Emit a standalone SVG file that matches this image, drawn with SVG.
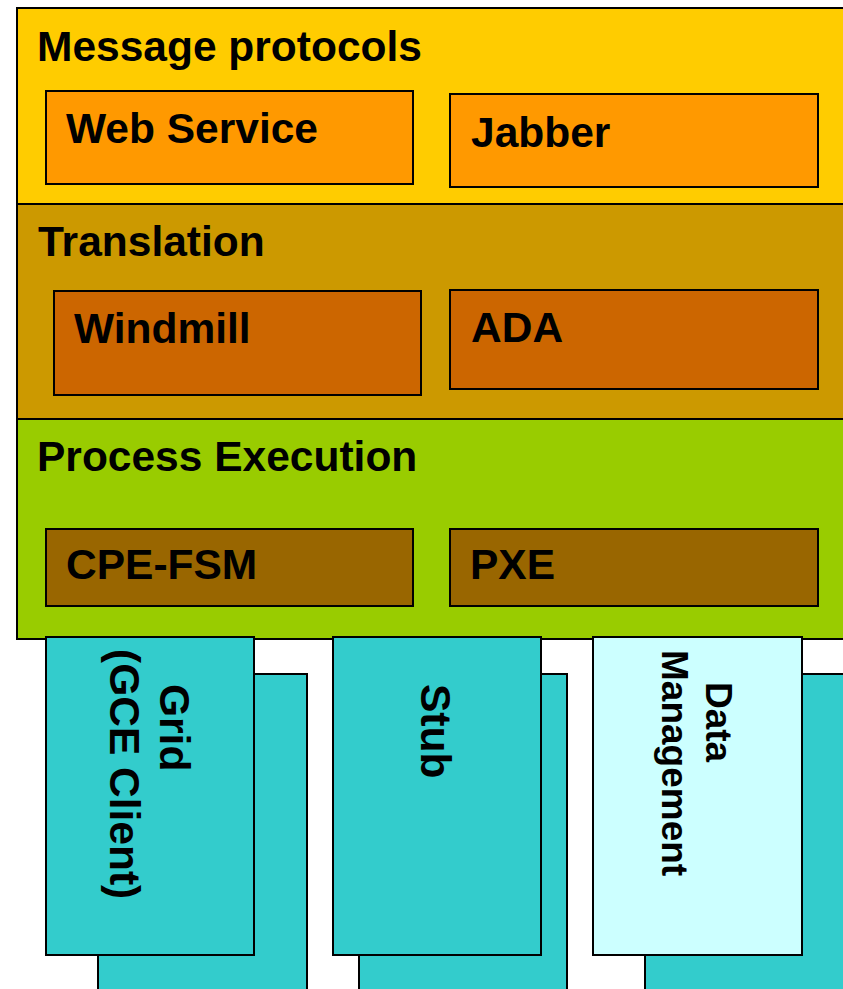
<svg xmlns="http://www.w3.org/2000/svg" width="843" height="989" viewBox="0 0 843 989">
<style>
  .panel { stroke: #000; stroke-width: 2; }
  .box { stroke: #000; stroke-width: 2; }
  .t { font-family: "Liberation Sans", Arial, sans-serif; font-weight: bold; font-size: 42.5px; fill: #000; }
  .ts { font-family: "Liberation Sans", Arial, sans-serif; font-weight: bold; font-size: 37px; fill: #000; }
</style>
<rect width="843" height="989" fill="#fff"/>

<g id="message-protocols">
  <rect class="panel" x="17" y="8" width="840" height="196" fill="#FFCC00"/>
  <text class="t" x="37" y="61">Message protocols</text>
</g>
<g id="web-service">
  <rect class="box" x="46" y="91" width="367" height="93" fill="#FF9900"/>
  <text class="t" x="66" y="143">Web Service</text>
</g>
<g id="jabber">
  <rect class="box" x="450" y="94" width="368" height="93" fill="#FF9900"/>
  <text class="t" x="471" y="147">Jabber</text>
</g>

<g id="translation">
  <rect class="panel" x="17" y="204" width="840" height="215" fill="#CC9900"/>
  <text class="t" x="38" y="256">Translation</text>
</g>
<g id="windmill">
  <rect class="box" x="54" y="291" width="367" height="104" fill="#CC6600"/>
  <text class="t" x="74" y="343">Windmill</text>
</g>
<g id="ada">
  <rect class="box" x="450" y="290" width="368" height="99" fill="#CC6600"/>
  <text class="t" x="471" y="342">ADA</text>
</g>

<g id="process-execution">
  <rect class="panel" x="17" y="419" width="840" height="220" fill="#99CC00"/>
  <text class="t" x="37" y="471">Process Execution</text>
</g>
<g id="cpe-fsm">
  <rect class="box" x="46" y="529" width="367" height="77" fill="#996600"/>
  <text class="t" x="66" y="579">CPE-FSM</text>
</g>
<g id="pxe">
  <rect class="box" x="450" y="529" width="368" height="77" fill="#996600"/>
  <text class="t" x="470" y="579">PXE</text>
</g>

<g id="grid-back">
  <rect class="box" x="98" y="674" width="209" height="330" fill="#33CCCC"/>
</g>
<g id="stub-back">
  <rect class="box" x="359" y="674" width="208" height="330" fill="#33CCCC"/>
</g>
<g id="data-back">
  <rect class="box" x="645" y="674" width="209" height="330" fill="#33CCCC"/>
</g>

<g id="grid">
  <rect class="box" x="46" y="637" width="208" height="318" fill="#33CCCC"/>
  <text class="t" transform="translate(160,684) rotate(90)">Grid</text>
  <text class="t" transform="translate(110,649) rotate(90)">(GCE Client)</text>
</g>
<g id="stub">
  <rect class="box" x="333" y="637" width="208" height="318" fill="#33CCCC"/>
  <text class="t" transform="translate(421,684) rotate(90)">Stub</text>
</g>
<g id="data-management">
  <rect class="box" x="593" y="637" width="209" height="318" fill="#CCFFFF"/>
  <text class="ts" transform="translate(706,682) rotate(90)">Data</text>
  <text class="ts" transform="translate(662,650) rotate(90)">Management</text>
</g>
</svg>
